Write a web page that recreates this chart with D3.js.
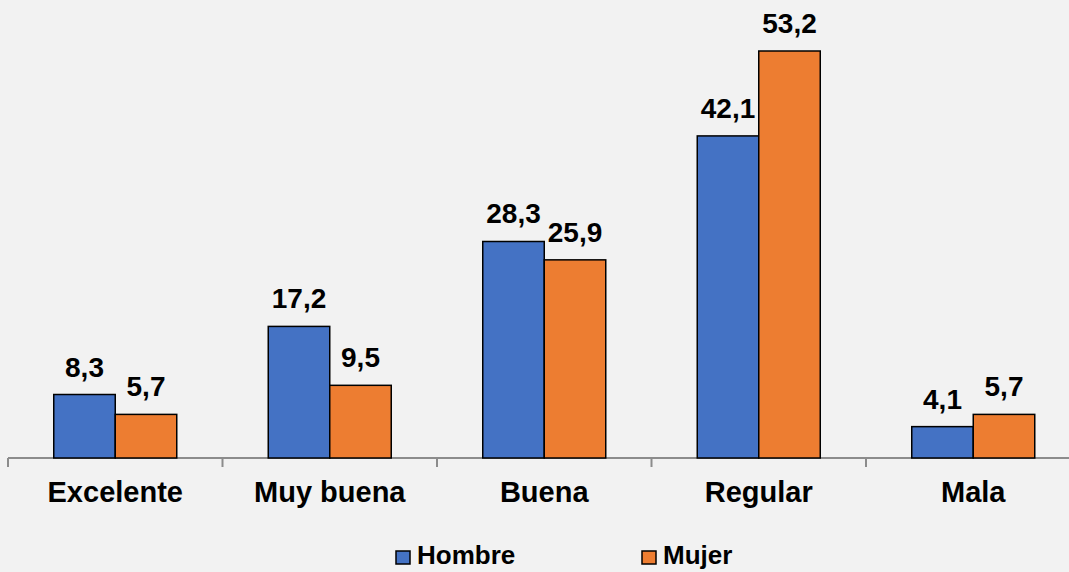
<!DOCTYPE html>
<html>
<head>
<meta charset="utf-8">
<script src="https://cdn.jsdelivr.net/npm/d3@7"></script>
<style>
html,body{margin:0;padding:0;background:#f2f2f2;}
svg{display:block;}
text{font-family:"Liberation Sans",Arial,sans-serif;font-weight:bold;fill:#000;}
</style>
</head>
<body>
<svg id="chart" width="1069" height="572"></svg>
<script>
const categories = ["Excelente", "Muy buena", "Buena", "Regular", "Mala"];
const seriesNames = ["Hombre", "Mujer"];
const hombre = [8.3, 17.2, 28.3, 42.1, 4.1];
const mujer = [5.7, 9.5, 25.9, 53.2, 5.7];
const colors = ["#4472C4", "#ED7D31"];

const svg = d3.select("#chart");
const W = 1069, H = 572;
svg.append("rect").attr("width", W).attr("height", H).attr("fill", "#f2f2f2");

const baseY = 458;
const x = d3.scaleBand().domain(categories).range([8, 1080.5]).paddingInner(0).paddingOuter(0);
const groupW = 123;
const xs = d3.scaleBand().domain(seriesNames).range([0, groupW]);
const y = d3.scaleLinear().domain([0, 53.2]).range([baseY, 51]);

const fmt = v => d3.format(".1f")(v).replace(".", ",");
const series = [hombre, mujer];

// axis
const axis = d3.axisBottom(x).tickSize(0).tickFormat("");
const ax = svg.append("g").attr("transform", `translate(0,${baseY})`).call(axis);
ax.select(".domain").attr("stroke", "#8c8c8c").attr("stroke-width", 2).attr("d", `M8,0H${W}`);
// boundary ticks
const bounds = categories.map(c => x(c));
svg.append("g").selectAll("line").data(bounds).join("line")
  .attr("x1", d => d).attr("x2", d => d)
  .attr("y1", baseY).attr("y2", baseY + 9)
  .attr("stroke", "#8c8c8c").attr("stroke-width", 2);

// bars
const g = svg.append("g");
categories.forEach((c, i) => {
  const off = x(c) + (x.bandwidth() - groupW) / 2;
  seriesNames.forEach((s, j) => {
    const v = series[j][i];
    g.append("rect")
      .attr("x", off + xs(s))
      .attr("y", y(v))
      .attr("width", xs.bandwidth())
      .attr("height", baseY - y(v))
      .attr("fill", colors[j])
      .attr("stroke", "#000")
      .attr("stroke-width", 1.5);
    g.append("text")
      .attr("x", off + xs(s) + xs.bandwidth() / 2)
      .attr("y", y(v) - 18)
      .attr("text-anchor", "middle")
      .style("font-size", "28px")
      .text(fmt(v));
  });
});

// category labels
svg.append("g").selectAll("text").data(categories).join("text")
  .attr("x", d => x(d) + x.bandwidth() / 2)
  .attr("y", 502)
  .attr("text-anchor", "middle")
  .style("font-size", "29px")
  .text(d => d);

// legend
const legX = [396, 642];
seriesNames.forEach((s, j) => {
  svg.append("rect")
    .attr("x", legX[j]).attr("y", 551)
    .attr("width", 14).attr("height", 13)
    .attr("fill", colors[j]).attr("stroke", "#000").attr("stroke-width", 1.5);
  svg.append("text")
    .attr("x", legX[j] + 21).attr("y", 564)
    .style("font-size", "26px")
    .text(s);
});
</script>
</body>
</html>
